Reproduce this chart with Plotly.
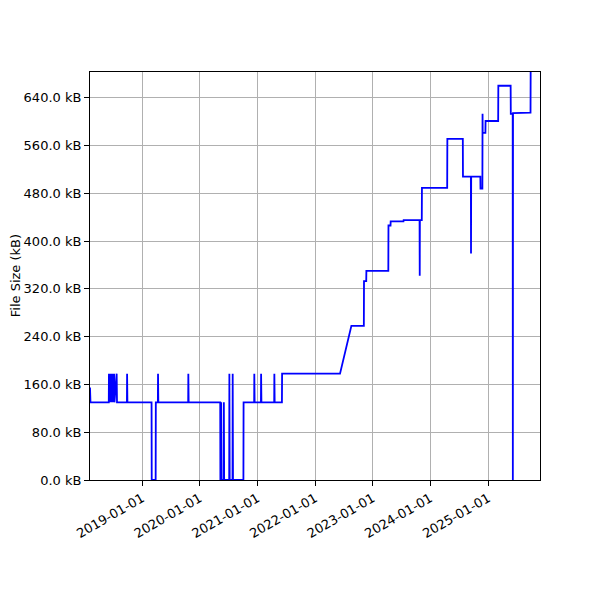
import plotly.graph_objects as go

# commit dates and file size (kB)
dates = [
    "2018-02-05", "2018-02-08",
    "2018-06-04", "2018-06-05", "2018-06-07", "2018-06-12", "2018-06-14",
    "2018-06-20", "2018-06-22", "2018-06-28", "2018-07-01", "2018-07-08",
    "2018-07-10", "2018-07-24", "2018-07-26",
    "2018-09-27", "2018-09-28", "2018-09-30",
    "2019-03-02", "2019-03-03", "2019-03-28", "2019-03-29",
    "2019-04-11", "2019-04-12", "2019-04-14",
    "2019-10-20", "2019-10-21", "2019-10-23",
    "2020-05-10", "2020-05-11", "2020-05-16", "2020-05-18",
    "2020-06-01", "2020-06-02", "2020-06-04",
    "2020-07-06", "2020-07-07", "2020-07-09",
    "2020-07-27", "2020-07-28", "2020-07-30",
    "2020-10-04", "2020-10-05",
    "2020-12-11", "2020-12-12", "2020-12-14",
    "2021-01-23", "2021-01-24", "2021-01-26",
    "2021-04-17", "2021-04-18", "2021-04-20",
    "2021-06-05", "2021-06-06",
    "2022-06-08", "2022-08-19",
    "2022-11-06", "2022-11-07", "2022-11-21", "2022-11-22",
    "2023-04-10", "2023-04-11", "2023-04-24", "2023-04-25",
    "2023-07-15", "2023-07-16",
    "2023-10-25", "2023-10-26", "2023-10-27",
    "2023-11-08", "2023-11-09",
    "2024-04-17", "2024-04-18",
    "2024-07-25", "2024-07-26",
    "2024-09-14", "2024-09-15", "2024-09-16",
    "2024-11-13", "2024-11-14", "2024-11-26", "2024-11-27", "2024-11-28",
    "2024-12-15", "2024-12-16",
    "2025-03-06", "2025-03-07",
    "2025-05-24", "2025-05-25",
    "2025-06-06", "2025-06-07", "2025-06-08",
    "2025-09-27", "2025-09-28", "2025-11-26",
]
sizes_kb = [
    155, 130,
    130, 178, 130, 178, 130,
    178, 130, 178, 130, 178,
    130, 178, 130,
    130, 178, 130,
    130, 0, 0, 130,
    130, 178, 130,
    130, 178, 130,
    130, 0, 130, 0,
    0, 130, 0,
    0, 178, 0,
    0, 178, 0,
    0, 130,
    130, 178, 130,
    130, 178, 130,
    130, 178, 130,
    130, 178,
    178, 258,
    258, 333, 333, 350,
    350, 426, 426, 433,
    433, 435,
    435, 342, 435,
    435, 489,
    489, 571,
    571, 508,
    508, 379, 508,
    508, 488, 488, 613, 581,
    581, 601,
    601, 660,
    660, 613,
    613, 0, 614,
    615, 700, 700,
]

y_ticks = [0, 80, 160, 240, 320, 400, 480, 560, 640]
y_labels = ["%.1f kB" % v for v in y_ticks]
x_ticks = ["2019-01-01", "2020-01-01", "2021-01-01", "2022-01-01",
           "2023-01-01", "2024-01-01", "2025-01-01"]

fig = go.Figure()
fig.add_trace(go.Scatter(x=dates, y=sizes_kb, mode='lines',
                         line=dict(color='blue', width=1.8)))

tick_font = dict(family='DejaVu Sans', size=13, color='black')
axis_common = dict(showline=True, linecolor='black', linewidth=1, mirror=True,
                   ticks='outside', ticklen=5, tickcolor='black',
                   showgrid=True, gridcolor='#b0b0b0', gridwidth=1,
                   zeroline=False, automargin=False, tickfont=tick_font)

# page body adds an 8px offset, so margins are trimmed to land the plot box at 90..540 x 72..480
fig.update_layout(
    width=600, height=600,
    margin=dict(l=82, r=68, t=64, b=128),
    paper_bgcolor='white', plot_bgcolor='white',
    showlegend=False,
    font=dict(family='DejaVu Sans', size=13, color='black'),
    xaxis=dict(range=["2018-02-05", "2025-11-26"], tickvals=x_ticks,
               ticktext=x_ticks, tickangle=-30, **axis_common),
    yaxis=dict(range=[0, 683], tickvals=y_ticks, ticktext=y_labels,
               **axis_common),
)

# y axis title placed by hand (automargin is off), near the left edge
fig.add_annotation(text='File Size (kB)', textangle=-90,
                   xref='paper', yref='paper', x=-0.185, y=0.5,
                   xanchor='left', yanchor='middle', showarrow=False,
                   borderpad=0,
                   font=dict(family='DejaVu Sans', size=13, color='black'))

fig.write_html("out.html")
